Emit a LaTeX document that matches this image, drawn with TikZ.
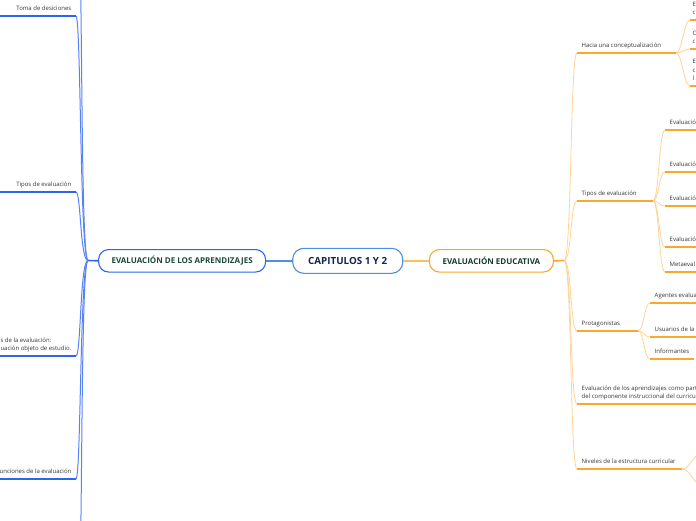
\documentclass[tikz,border=0pt]{standalone}
\usepackage{fontspec}
\setmainfont{Open Sans}
\usetikzlibrary{positioning}
\definecolor{mapBlue}{RGB}{45,100,240}
\definecolor{mapSky}{RGB}{77,143,224}
\definecolor{mapOrange}{RGB}{247,168,45}
\definecolor{mapPeach}{RGB}{253,212,150}
\definecolor{mapGreen}{RGB}{28,72,58}
\definecolor{mapNavy}{RGB}{18,36,78}
\definecolor{mapText}{RGB}{55,55,55}

\begin{document}
\begin{tikzpicture}[x=1pt,y=-1pt,
      topic/.style={draw,line width=1.1pt,rounded corners=10pt,fill=white,inner sep=0pt,
                    minimum height=22.5pt,font=\bfseries\fontsize{8}{9}\selectfont},
      root/.style={topic,draw=mapSky,text=mapNavy,minimum width=110pt,minimum height=25pt,
                   rounded corners=11pt,font=\bfseries\fontsize{9.8}{11}\selectfont},
      leaf/.style={font=\fontsize{6}{8.6}\selectfont,text=mapText,inner sep=1.5pt,
                   text depth=1.5pt,align=left},
      lleaf/.style={leaf,anchor=south east},
      rleaf/.style={leaf,anchor=south west},
      bline/.style={mapBlue,line width=1.6pt},
      btwig/.style={mapBlue!80,line width=1pt},
      oline/.style={mapOrange,line width=1.7pt},
      otwig/.style={mapPeach,line width=0.8pt}]
    \useasboundingbox[fill=white] (0,0) rectangle (696,520);

    % main topics
    \node[root] (c) at (347.7,260.8) {CAPITULOS 1 Y 2};
    \node[topic,draw=mapBlue,text=mapGreen,minimum width=167pt,left=26pt of c] (la) {EVALUACIÓN DE LOS APRENDIZAJES};
    \node[topic,draw=mapOrange,text=mapGreen!80!black,minimum width=124pt,right=25.6pt of c] (re) {EVALUACIÓN EDUCATIVA};
    \draw[mapSky,line width=1.5pt] (c) -- (la);
    \draw[mapOrange!75,line width=1.5pt] (c) -- (re);

    % left side
    \coordinate (lj) at (88,260.5);
    \coordinate (l0) at (78,-70);
    \coordinate (l1) at (76,16);
    \coordinate (l2) at (76,192);
    \coordinate (l3) at (76,356);
    \coordinate (l4) at (76,479);
    \coordinate (l5) at (78,600);
    \draw[bline] (la.west) -- (lj);
    \draw[btwig] (lj) .. controls +(-8,0) and +(5,0) .. (l0);
    \draw[btwig] (lj) .. controls +(-8,0) and +(5,0) .. (l1);
    \draw[btwig] (lj) .. controls +(-8,0) and +(5,0) .. (l2);
    \draw[btwig] (lj) .. controls +(-8,0) and +(5,0) .. (l3);
    \draw[btwig] (lj) .. controls +(-8,0) and +(5,0) .. (l4);
    \draw[btwig] (lj) .. controls +(-8,0) and +(5,0) .. (l5);
    \draw[bline] (l1) -- ++(-82,0);
    \draw[bline] (l2) -- ++(-82,0);
    \draw[bline] (l3) -- ++(-82,0);
    \draw[bline] (l4) -- ++(-82,0);
    \node[lleaf] (tl1) at (73,14) {Toma de desiciones};
    \node[lleaf] (tl2) at (73,190) {Tipos de evaluación};
    \node[lleaf] (tl3) at (73,354) {s de la evaluación:\\uación objeto de estudio.};
    \node[lleaf] (tl4) at (73,477) {unciones de la evaluación};

    % right side
    \coordinate (rj) at (564,260.5);
    \coordinate (r1) at (577,53);
    \coordinate (r2) at (577,201);
    \coordinate (r3) at (577,331);
    \coordinate (r4) at (577,404);
    \coordinate (r5) at (577,469);
    \draw[oline] (re.east) -- (rj);
    \draw[otwig] (rj) .. controls +(8,0) and +(-7,0) .. (r1);
    \draw[otwig] (rj) .. controls +(8,0) and +(-7,0) .. (r2);
    \draw[otwig] (rj) .. controls +(8,0) and +(-7,0) .. (r3);
    \draw[otwig] (rj) .. controls +(8,0) and +(-7,0) .. (r4);
    \draw[otwig] (rj) .. controls +(8,0) and +(-7,0) .. (r5);
    \draw[oline] (r1) -- ++(99,0) coordinate (r1j);
    \draw[oline] (r2) -- ++(76,0) coordinate (r2j);
    \draw[oline] (r3) -- ++(61,0) coordinate (r3j);
    \draw[oline] (r4) -- ++(125,0);
    \draw[oline] (r5) -- ++(105,0) coordinate (r5j);
    \node[rleaf] (tr1) at (580,51) {Hacia una conceptualización};
    \node[rleaf] (tr2) at (580,199) {Tipos de evaluación};
    \node[rleaf] (tr3) at (580,329) {Protagonistas};
    \node[rleaf] (tr4) at (580,402) {Evaluación de los aprendizajes como part\\del componente instruccional del curricul};
    \node[rleaf] (tr5) at (580,467) {Niveles de la estructura curricular};

    % hacia una conceptualizacion
    \coordinate (s11) at (690,20);
    \coordinate (s12) at (690,49);
    \coordinate (s13) at (690,86);
    \draw[otwig] (r1j) .. controls +(6,0) and +(-6,0) .. (s11);
    \draw[otwig] (r1j) .. controls +(6,0) and +(-6,0) .. (s12);
    \draw[otwig] (r1j) .. controls +(6,0) and +(-6,0) .. (s13);
    \draw[oline] (s11) -- ++(20,0);
    \draw[oline] (s12) -- ++(20,0);
    \draw[oline] (s13) -- ++(20,0);
    \node[rleaf] (ts11) at (691,18) {E\\c};
    \node[rleaf] (ts12) at (691,47) {C\\c};
    \node[rleaf] (ts13) at (691,84) {E\\c\\l};

    % tipos de evaluacion
    \coordinate (s21) at (665,130);
    \coordinate (s22) at (665,172);
    \coordinate (s23) at (665,206);
    \coordinate (s24) at (665,247);
    \coordinate (s25) at (665,272);
    \draw[otwig] (r2j) .. controls +(6,0) and +(-6,0) .. (s21);
    \draw[otwig] (r2j) .. controls +(6,0) and +(-6,0) .. (s22);
    \draw[otwig] (r2j) .. controls +(6,0) and +(-6,0) .. (s23);
    \draw[otwig] (r2j) .. controls +(6,0) and +(-6,0) .. (s24);
    \draw[otwig] (r2j) .. controls +(6,0) and +(-6,0) .. (s25);
    \draw[oline] (s21) -- ++(40,0);
    \draw[oline] (s22) -- ++(40,0);
    \draw[oline] (s23) -- ++(40,0);
    \draw[oline] (s24) -- ++(40,0);
    \draw[oline] (s25) -- ++(40,0);
    \node[rleaf] (ts21) at (668,128) {Evaluació};
    \node[rleaf] (ts22) at (668,170) {Evaluació};
    \node[rleaf] (ts23) at (668,204) {Evaluació};
    \node[rleaf] (ts24) at (668,245) {Evaluació};
    \node[rleaf] (ts25) at (668,270) {Metaeval};

    % protagonistas
    \coordinate (s31) at (650,303);
    \coordinate (s32) at (650,337);
    \coordinate (s33) at (650,359);
    \draw[otwig] (r3j) .. controls +(6,0) and +(-6,0) .. (s31);
    \draw[otwig] (r3j) .. controls +(6,0) and +(-6,0) .. (s32);
    \draw[otwig] (r3j) .. controls +(6,0) and +(-6,0) .. (s33);
    \draw[oline] (s31) -- ++(55,0);
    \draw[oline] (s32) -- ++(55,0);
    \draw[oline] (s33) -- ++(44,0);
    \node[rleaf] (ts31) at (653,301) {Agentes evalua};
    \node[rleaf] (ts32) at (653,335) {Usuarios de la};
    \node[rleaf] (ts33) at (653,357) {Informantes};

    % niveles
    \coordinate (s51) at (700,454);
    \coordinate (s52) at (700,484);
    \draw[otwig] (r5j) .. controls +(8,0) and +(-6,0) .. (s51);
    \draw[otwig] (r5j) .. controls +(8,0) and +(-6,0) .. (s52);
\end{tikzpicture}
\end{document}
